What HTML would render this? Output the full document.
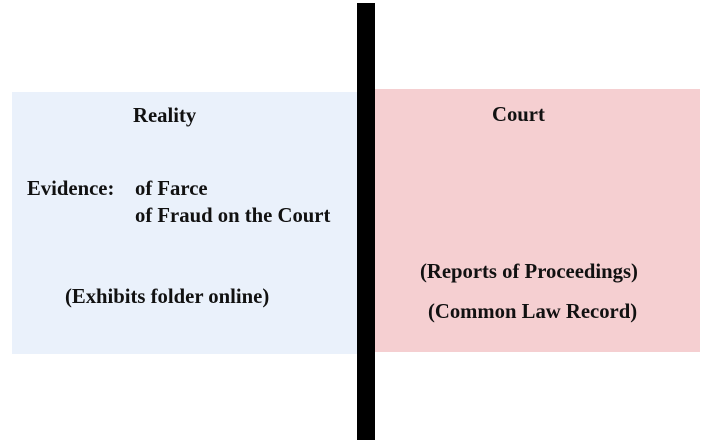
<!DOCTYPE html>
<html><head><style>
body{margin:0;width:703px;height:448px;background:#fff;position:relative;overflow:hidden;font-family:"Liberation Serif",serif;font-weight:bold;font-size:20.7px;color:#111}
div{position:absolute}
.t{white-space:nowrap;line-height:22px}
</style></head><body>
<div style="left:12px;top:92px;width:345px;height:262px;background:#EAF1FB"></div>
<div style="left:375px;top:89px;width:325px;height:263px;background:#F5CFD1"></div>
<div style="left:357px;top:3px;width:18px;height:437px;background:#000"></div>
<div class="t" style="left:133px;top:105px">Reality</div>
<div class="t" style="left:492px;top:104px">Court</div>
<div class="t" style="left:27px;top:178px">Evidence:</div>
<div class="t" style="left:135px;top:178px">of Farce</div>
<div class="t" style="left:135px;top:205px">of Fraud on the Court</div>
<div class="t" style="left:65px;top:286px">(Exhibits folder online)</div>
<div class="t" style="left:420px;top:261px">(Reports of Proceedings)</div>
<div class="t" style="left:428px;top:301px">(Common Law Record)</div>
</body></html>
